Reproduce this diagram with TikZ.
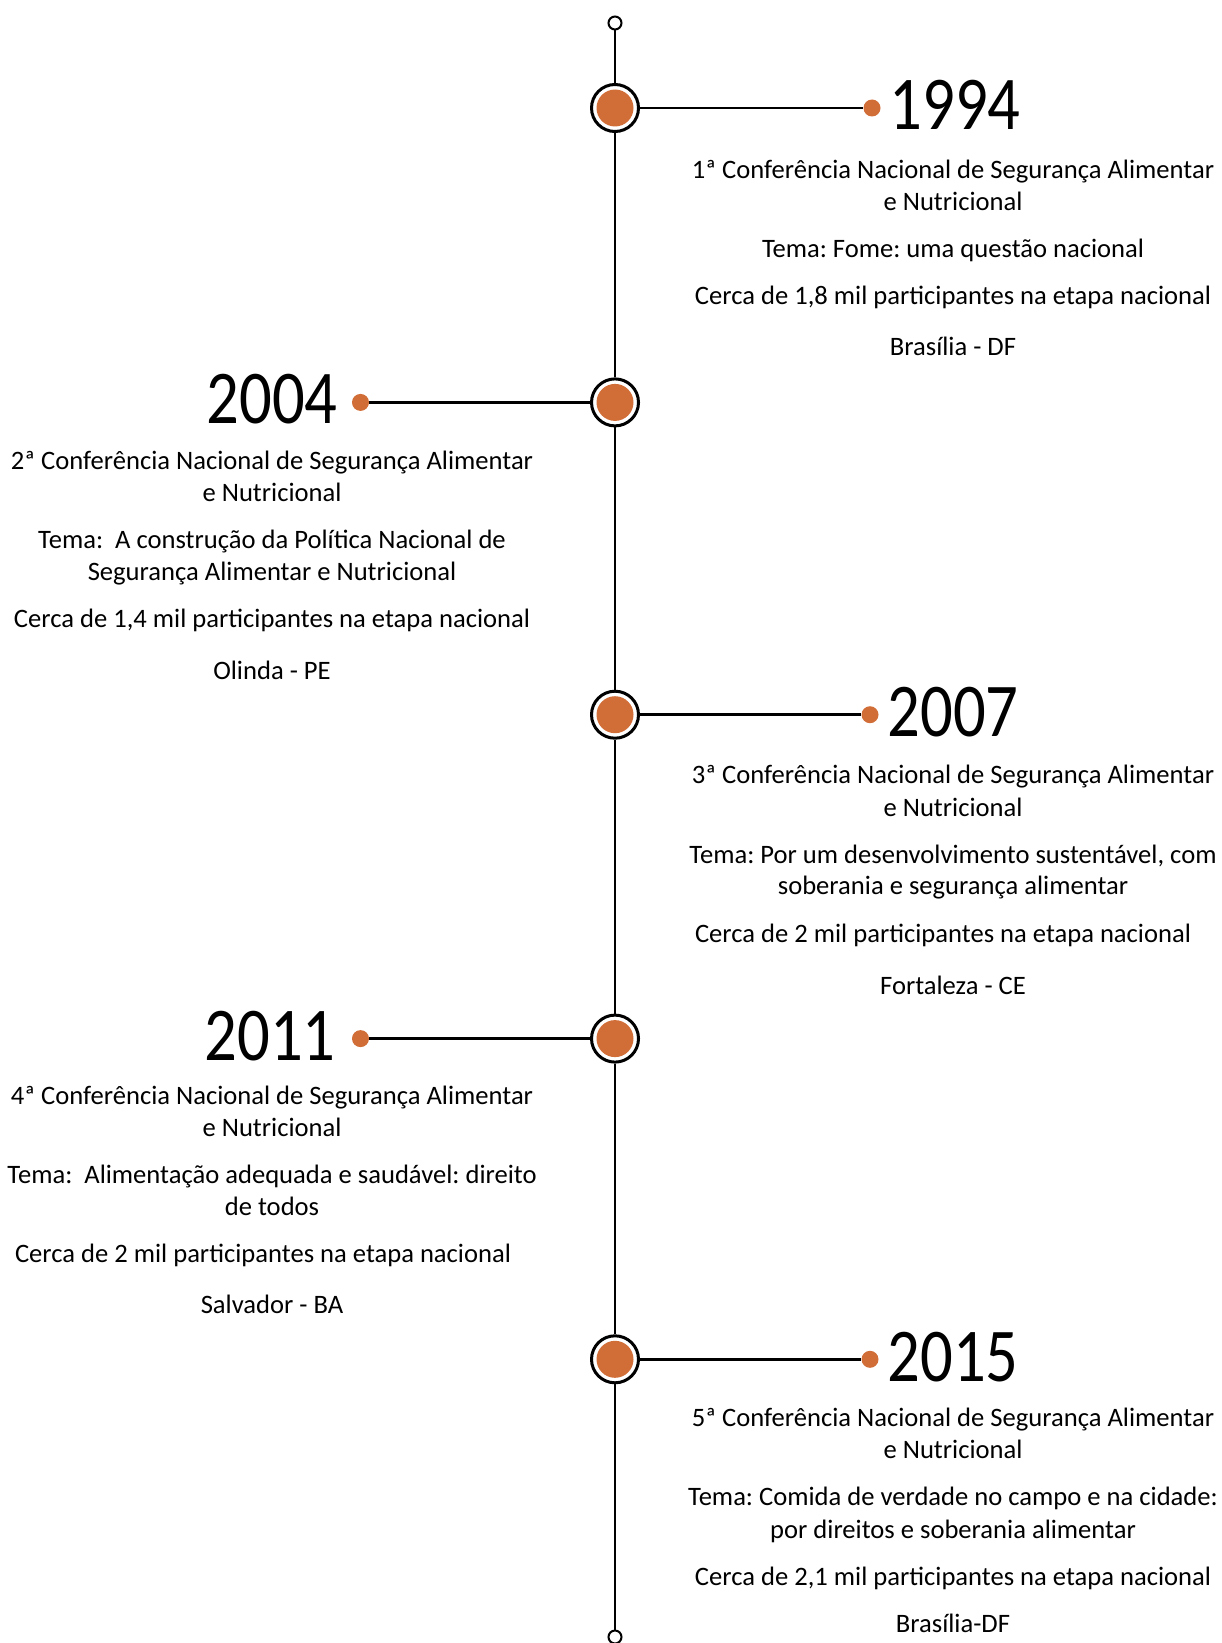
\documentclass[tikz,border=0pt]{standalone}
\usepackage{fontspec}
\setmainfont{Carlito}
\usepackage{graphicx}
\definecolor{accent}{RGB}{209,109,54}
\tikzset{
  axisline/.style={line width=2.6pt, draw=black},
  ring/.style={circle, draw=black, line width=3pt, fill=white, minimum size=47pt, inner sep=0pt},
  core/.style={circle, fill=accent, minimum size=37pt, inner sep=0pt},
  endpt/.style={circle, draw=black, line width=2pt, fill=white, minimum size=13pt, inner sep=0pt},
  dotmark/.style={circle, fill=accent, minimum size=17pt, inner sep=0pt},
  yearlbl/.style={font=\fontsize{76}{76}\selectfont, inner sep=0pt, text height=48pt, text depth=0pt},
  txt/.style={font=\fontsize{26.6}{32}\selectfont\frenchspacing, inner sep=0pt, text height=18pt, text depth=0pt}
}
\newcommand{\yr}[1]{\scalebox{0.85}[1]{#1}}
\begin{document}
\begin{tikzpicture}[x=1pt,y=-1pt]
\useasboundingbox (0,0) rectangle (1221,1643);
% end points and rings
\node[endpt] (top) at (615,23) {};
\node[endpt] (bot) at (615,1637) {};
\node[ring] (c1) at (615,108) {};
\node[ring] (c2) at (615,402.4) {};
\node[ring] (c3) at (615,714.7) {};
\node[ring] (c4) at (615,1038.6) {};
\node[ring] (c5) at (615,1359.3) {};
% axis
\draw[axisline] (top) -- (c1);
\draw[axisline] (c1) -- (c2);
\draw[axisline] (c2) -- (c3);
\draw[axisline] (c3) -- (c4);
\draw[axisline] (c4) -- (c5);
\draw[axisline] (c5) -- (bot);
% cores
\node[core] (k1) at (c1) {};
\node[core] (k2) at (c2) {};
\node[core] (k3) at (c3) {};
\node[core] (k4) at (c4) {};
\node[core] (k5) at (c5) {};
% dots
\node[dotmark] (d1) at (872,108) {};
\node[dotmark] (d2) at (360.5,402.4) {};
\node[dotmark] (d3) at (870,714.7) {};
\node[dotmark] (d4) at (360.5,1038.6) {};
\node[dotmark] (d5) at (870,1359.3) {};
\draw[axisline] (c1) -- (d1);
\draw[axisline] (c2) -- (d2);
\draw[axisline] (c3) -- (d3);
\draw[axisline] (c4) -- (d4);
\draw[axisline] (c5) -- (d5);
% years
\node[yearlbl] (y1) at (955,106) {\yr{1994}};
\node[yearlbl] (y2) at (272,399.5) {\yr{2004}};
\node[yearlbl] (y3) at (953,712) {\yr{2007}};
\node[yearlbl] (y4) at (270,1036) {\yr{2011}};
\node[yearlbl] (y5) at (953,1357) {\yr{2015}};
% 1994
\node[txt] (t1a) at (953,169) {1ª Conferência Nacional de Segurança Alimentar};
\node[txt] (t1b) at (953,201) {e Nutricional};
\node[txt] (t1c) at (953,248.5) {Tema: Fome: uma questão nacional};
\node[txt] (t1d) at (953,295) {Cerca de 1,8 mil participantes na etapa nacional};
\node[txt] (t1e) at (953,346) {Brasília - DF};
% 2004
\node[txt] (t2a) at (272,460) {2ª Conferência Nacional de Segurança Alimentar};
\node[txt] (t2b) at (272,492.6) {e Nutricional};
\node[txt] (t2c) at (272,539.7) {Tema:~ A construção da Política Nacional de};
\node[txt] (t2d) at (272,571.2) {Segurança Alimentar e Nutricional};
\node[txt] (t2e) at (272,618.3) {Cerca de 1,4 mil participantes na etapa nacional};
\node[txt] (t2f) at (272,670.7) {Olinda - PE};
% 2007
\node[txt] (t3a) at (953,774.5) {3ª Conferência Nacional de Segurança Alimentar};
\node[txt] (t3b) at (953,807) {e Nutricional};
\node[txt] (t3c) at (953,854) {Tema: Por um desenvolvimento sustentável, com};
\node[txt] (t3d) at (953,885.6) {soberania e segurança alimentar};
\node[txt] (t3e) at (943,933.8) {Cerca de 2 mil participantes na etapa nacional};
\node[txt] (t3f) at (953,985.1) {Fortaleza - CE};
% 2011
\node[txt] (t4a) at (272,1095.2) {4ª Conferência Nacional de Segurança Alimentar};
\node[txt] (t4b) at (272,1127.6) {e Nutricional};
\node[txt] (t4c) at (272,1174.8) {Tema:~ Alimentação adequada e saudável: direito};
\node[txt] (t4d) at (272,1206.2) {de todos};
\node[txt] (t4e) at (263,1253.4) {Cerca de 2 mil participantes na etapa nacional};
\node[txt] (t4f) at (272,1304.8) {Salvador - BA};
% 2015
\node[txt] (t5a) at (953,1417) {5ª Conferência Nacional de Segurança Alimentar};
\node[txt] (t5b) at (953,1449.4) {e Nutricional};
\node[txt] (t5c) at (953,1496.5) {Tema: Comida de verdade no campo e na cidade:};
\node[txt] (t5d) at (953,1529) {por direitos e soberania alimentar};
\node[txt] (t5e) at (953,1576.2) {Cerca de 2,1 mil participantes na etapa nacional};
\node[txt] (t5f) at (953,1623.4) {Brasília-DF};
\end{tikzpicture}
\end{document}
